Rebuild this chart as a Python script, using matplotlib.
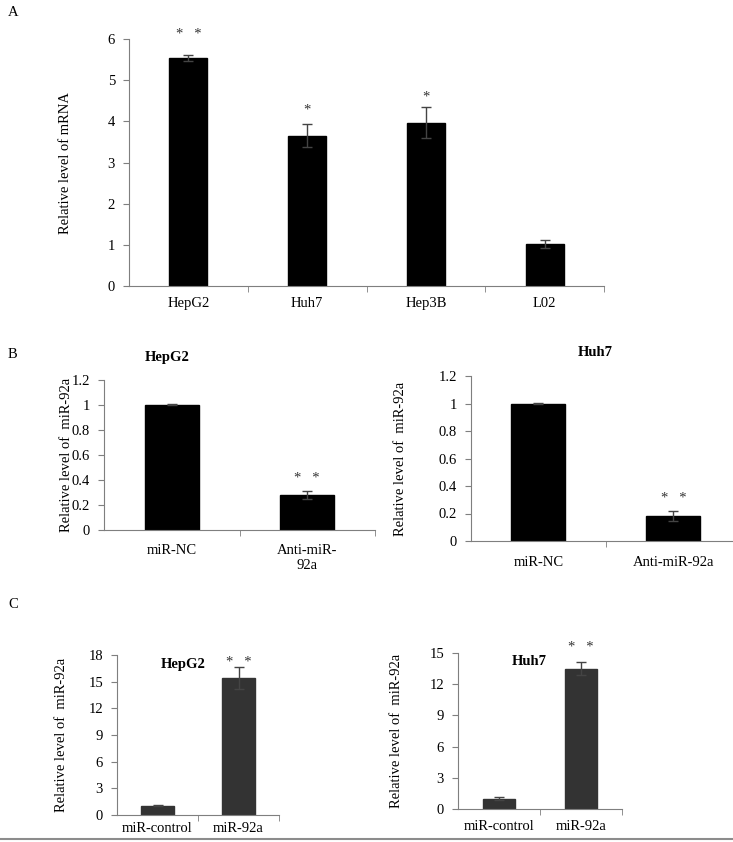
import numpy as np
import matplotlib
matplotlib.use("Agg")
import matplotlib.pyplot as plt
from matplotlib.lines import Line2D

plt.rcParams['font.family'] = ['Liberation Serif', 'DejaVu Serif']

# Panel A: mRNA level in cell lines
cells_a = ['HepG2', 'Huh7', 'Hep3B', 'L02']
mrna_a = [5.54, 3.65, 3.97, 1.02]
mrna_a_err = [0.08, 0.28, 0.38, 0.09]
stars_a = ['*   *', '*', '*', '']
stars_a_y = [6.1, 4.27, 4.6, 0]

# Panel B: anti-miR-92a knockdown
groups_b = ['miR-NC', 'Anti-miR-\n92a']
groups_b2 = ['miR-NC', 'Anti-miR-92a']
hepg2_b = [1.0, 0.28]
hepg2_b_err = [0.004, 0.03]
huh7_b = [1.0, 0.184]
huh7_b_err = [0.002, 0.036]

# Panel C: miR-92a overexpression
groups_c = ['miR-control', 'miR-92a']
hepg2_c = [1.05, 15.45]
hepg2_c_err = [0.08, 1.25]
huh7_c = [0.97, 13.5]
huh7_c_err = [0.15, 0.6]

W, H = 733, 842
fig = plt.figure(figsize=(W / 100, H / 100), dpi=100)

SPINE = '#7f7f7f'
FS = 10.5


def px_axes(left, right, bottom, top):
    return fig.add_axes([left / W, 1 - bottom / H, (right - left) / W, (bottom - top) / H])


def excel_bars(ax, labels, vals, errs, ymax, step, width, color, ylabel, fmt=None):
    n = len(vals)
    x = np.arange(n) + 0.5
    ax.bar(x, vals, width=width, color=color, edgecolor=color, zorder=2)
    ax.errorbar(x, vals, yerr=errs, fmt='none', ecolor='#444444', elinewidth=1,
                capsize=3.5, capthick=1, zorder=3)
    ax.set_xlim(0, n)
    ax.set_ylim(0, ymax)
    ticks = np.arange(0, ymax + step / 2, step)
    ax.set_yticks(ticks)
    if fmt:
        ax.set_yticklabels([fmt(t) for t in ticks])
    ax.set_xticks(x)
    ax.set_xticklabels(labels, fontsize=FS)
    ax.set_xticks(np.arange(1, n + 1), minor=True)
    ax.tick_params(axis='x', which='major', length=0, pad=8)
    ax.tick_params(axis='x', which='minor', length=4, direction='out', color=SPINE)
    ax.tick_params(axis='y', length=4, direction='out', color=SPINE, labelsize=FS, pad=6)
    for s in ['top', 'right']:
        ax.spines[s].set_visible(False)
    for s in ['left', 'bottom']:
        ax.spines[s].set_color(SPINE)
    ax.set_ylabel(ylabel, fontsize=FS)
    ax.patch.set_alpha(0)
    return x


def dec(t):
    t = round(t, 1)
    return '0' if t == 0 else ('%d' % t if t == int(t) else '%g' % t)


# Panel A
axA = px_axes(129, 604, 286, 39)
xa = excel_bars(axA, cells_a, mrna_a, mrna_a_err, 6, 1, 0.32, 'black',
                'Relative level of mRNA')
axA.yaxis.labelpad = 26
for xi, sy, s in zip(xa, stars_a_y, stars_a):
    if s:
        axA.text(xi, sy, s, ha='center', va='center', fontsize=FS, color='#333333')
fig.text(8 / W, 1 - 13 / H, 'A', fontsize=FS, ha='left', va='center')

# Panel B left
axB1 = px_axes(104, 375, 530, 380)
xb = excel_bars(axB1, groups_b, hepg2_b, hepg2_b_err, 1.2, 0.2, 0.4, 'black',
                'Relative level of  miR-92a', fmt=dec)
axB1.yaxis.labelpad = -1
axB1.tick_params(axis='x', which='major', pad=10)
axB1.text(xb[1], 0.41, '*   *', ha='center', va='center', fontsize=FS, color='#333333')
fig.text(167 / W, 1 - 357 / H, 'HepG2', fontsize=FS, fontweight='bold', ha='center', va='center')
fig.text(8 / W, 1 - 354 / H, 'B', fontsize=FS, ha='left', va='center')

# Panel B right
axB2 = px_axes(471, 741, 541, 376)
xb2 = excel_bars(axB2, groups_b2, huh7_b, huh7_b_err, 1.2, 0.2, 0.4, 'black',
                 'Relative level of  miR-92a', fmt=dec)
axB2.yaxis.labelpad = 23
axB2.tick_params(axis='x', which='major', pad=11)
axB2.text(xb2[1], 0.31, '*   *', ha='center', va='center', fontsize=FS, color='#333333')
fig.text(595 / W, 1 - 352 / H, 'Huh7', fontsize=FS, fontweight='bold', ha='center', va='center')

# Panel C left
axC1 = px_axes(117, 279, 815, 655)
xc = excel_bars(axC1, groups_c, hepg2_c, hepg2_c_err, 18, 3, 0.4, '#333333',
                'Relative level of  miR-92a')
axC1.yaxis.labelpad = 15
axC1.tick_params(axis='x', which='major', pad=5)
axC1.text(xc[1], 17.2, '*   *', ha='center', va='center', fontsize=FS, color='#333333')
axC1.text(0.82, 16.9, 'HepG2', fontsize=FS, fontweight='bold', ha='center', va='center')
fig.text(8 / W, 1 - 605 / H, 'C', fontsize=FS, ha='left', va='center')

# Panel C right
axC2 = px_axes(458, 622, 809, 653)
xc2 = excel_bars(axC2, groups_c, huh7_c, huh7_c_err, 15, 3, 0.4, '#333333',
                 'Relative level of  miR-92a')
axC2.yaxis.labelpad = 19
axC2.tick_params(axis='x', which='major', pad=8)
axC2.text(xc2[1], 15.5, '*   *', ha='center', va='center', fontsize=FS, color='#333333')
axC2.text(0.87, 14.2, 'Huh7', fontsize=FS, fontweight='bold', ha='center', va='center')

# bottom border line
fig.add_artist(Line2D([0, 1], [1 - 839 / H, 1 - 839 / H], color='#8c8c8c', lw=1.5))

fig.savefig('out.png', dpi=100)
